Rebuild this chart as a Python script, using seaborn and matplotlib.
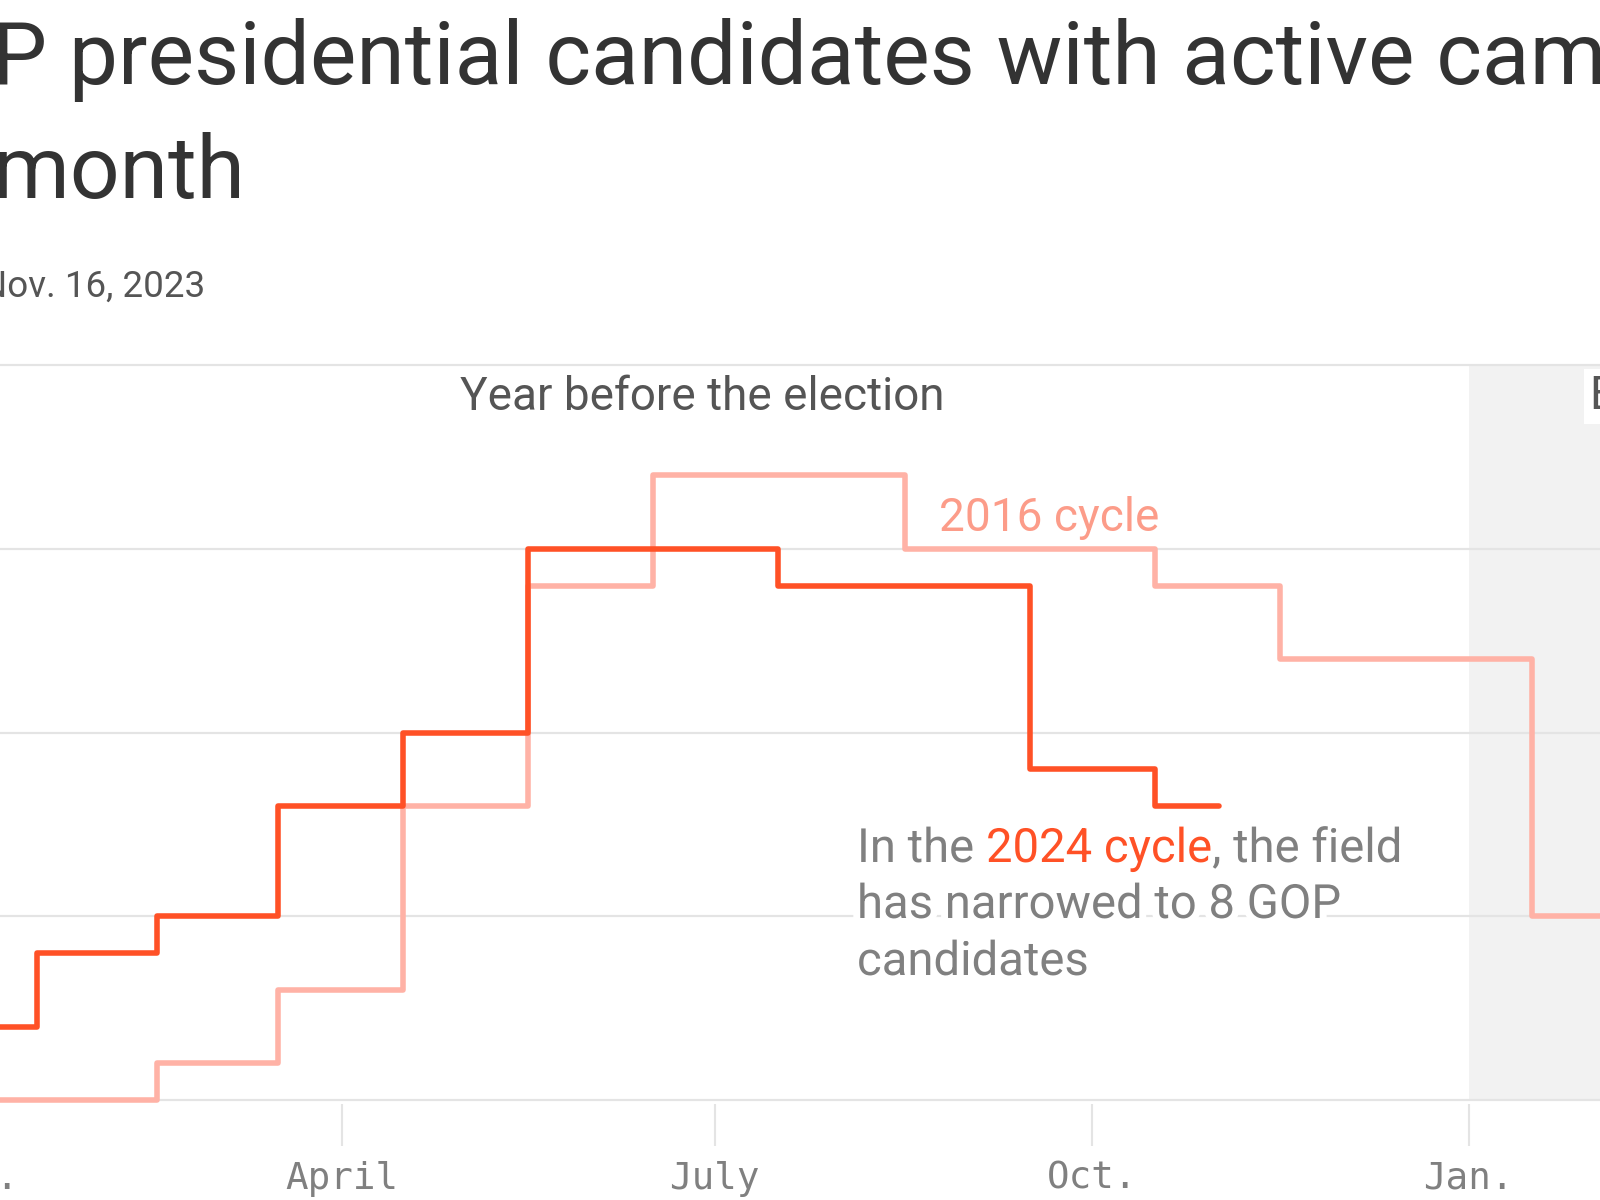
import matplotlib.pyplot as plt
import matplotlib.patheffects as pe
from matplotlib.transforms import offset_copy
import pandas as pd
import seaborn as sns

# active GOP campaigns, counted at the start of each month
months_2016 = ["2015-01", "2015-02", "2015-03", "2015-04", "2015-05", "2015-06", "2015-07",
               "2015-08", "2015-09", "2015-10", "2015-11", "2015-12", "2016-01", "2016-02",
               "2016-03"]
counts_2016 = [0, 0, 1, 3, 8, 14, 17, 17, 15, 15, 14, 12, 12, 5, 5]

months_2024 = ["2023-01", "2023-02", "2023-03", "2023-04", "2023-05", "2023-06",
               "2023-07", "2023-08", "2023-09", "2023-10", "2023-11"]
counts_2024 = [2, 4, 5, 8, 10, 15, 15, 14, 14, 9, 8]

tick_dates = ["2023-01-01", "2023-04-01", "2023-07-01", "2023-10-01", "2024-01-01"]
tick_labels = ["Jan.", "April", "July", "Oct.", "Jan."]

C_2024 = "#ff5126"
C_2016 = "#ffb2a6"
C_2016_TXT = "#fc9c89"
GRID = "#e4e4e4"

# both cycles drawn on one calendar (2016 cycle shifted by 8 years)
df16 = pd.DataFrame({"date": pd.to_datetime(months_2016) + pd.DateOffset(years=8), "n": counts_2016})
df24 = pd.DataFrame({"date": pd.to_datetime(months_2024), "n": counts_2024})

sns.set_theme(style="white")
plt.rcParams["font.family"] = ["Roboto", "DejaVu Sans"]

fig = plt.figure(figsize=(16, 12), dpi=100)

# the chart is cropped: axes run past both figure edges
day0 = pd.Timestamp("2023-01-01")
d_lo, d_hi = -20, 400
px0, ppd = -27, 4.098
left_px = px0 + d_lo * ppd
right_px = px0 + d_hi * ppd
y_lo, y_hi = -0.1, 20.1
unit = 36.75
bot_px = 1100 + 0.1 * unit
top_px = 365 - 0.1 * unit
ax = fig.add_axes([left_px / 1600, 1 - bot_px / 1200,
                   (right_px - left_px) / 1600, (bot_px - top_px) / 1200])

x_lo = day0 + pd.Timedelta(days=d_lo)
x_hi = day0 + pd.Timedelta(days=d_hi)
ax.fill_between([pd.Timestamp("2024-01-01"), x_hi], 0, 20, color="#f2f2f2", linewidth=0, zorder=0)

sns.lineplot(data=df16, x="date", y="n", drawstyle="steps-mid", color=C_2016,
             linewidth=4, ax=ax, zorder=3)
sns.lineplot(data=df24, x="date", y="n", drawstyle="steps-mid", color=C_2024,
             linewidth=4, ax=ax, zorder=4)

ax.set_xlim(x_lo, x_hi)
ax.set_ylim(y_lo, y_hi)
ax.set_yticks([0, 5, 10, 15, 20])
ax.grid(axis="y", color=GRID, linewidth=1.6)
ax.grid(axis="x", visible=False)
ax.set_axisbelow(True)
ax.set_xticks(pd.to_datetime(tick_dates))
ax.set_xticklabels(tick_labels, fontfamily="DejaVu Sans Mono", fontsize=27, color="#808080")
ax.tick_params(axis="x", bottom=True, length=30, width=1.5, color=GRID, pad=11)
ax.tick_params(axis="y", left=False, labelleft=False)
ax.set_xlabel("")
ax.set_ylabel("")
for s in ax.spines.values():
    s.set_visible(False)

renderer = fig.canvas.get_renderer()


def text_width(s, **kw):
    t = fig.text(0, 0, s, **kw)
    w = t.get_window_extent(renderer=renderer).width
    t.remove()
    return w


def day(d):
    return day0 + pd.Timedelta(days=d)


def y_of(px):
    return (1100 - px) / unit


# headline, cut at the left and right edges like the reference
title_kw = dict(fontsize=63, color="#333333")
w_go = text_width("GO", **title_kw)
fig.text(0, 1 - 84 / 1200, "GOP presidential candidates with active campaigns",
         va="baseline", transform=offset_copy(fig.transFigure, fig=fig, x=-8 - w_go, units="dots"),
         **title_kw)
fig.text(0, 1 - 198 / 1200, "month", va="baseline",
         transform=offset_copy(fig.transFigure, fig=fig, x=-7, units="dots"), **title_kw)

sub_kw = dict(fontsize=26.5, color="#555555")
w_n = text_width("N", **sub_kw)
fig.text(0, 1 - 297 / 1200, "Nov. 16, 2023", va="baseline",
         transform=offset_copy(fig.transFigure, fig=fig, x=7 - w_n, units="dots"), **sub_kw)

# period labels
ax.text(day(178), y_of(410), "Year before the election", ha="center", va="baseline",
        fontsize=33, color="#555555", zorder=6)
ax.text(day((1590 - px0) / ppd), y_of(409), "Election year", ha="left", va="baseline",
        fontsize=33, color="#555555", zorder=6,
        bbox=dict(facecolor="white", edgecolor="none", pad=4))

ax.text(day((939 - px0) / ppd), y_of(531), "2016 cycle", ha="left", va="baseline",
        fontsize=33, color=C_2016_TXT, zorder=6)

# annotation with a coloured phrase and a white halo
ann_kw = dict(fontsize=34, va="baseline", zorder=6,
              path_effects=[pe.withStroke(linewidth=10, foreground="white")])
ax0 = day((857 - px0) / ppd)
w_a = text_width("In the 2024 cycle", fontsize=34)
w_b = text_width("2024 cycle", fontsize=34)
ax.text(ax0, y_of(862), "In the ", color="#808080", **ann_kw)
ax.text(ax0, y_of(862), "2024 cycle", color=C_2024,
        transform=offset_copy(ax.transData, fig=fig, x=w_a - w_b, units="dots"), **ann_kw)
ax.text(ax0, y_of(862), ", the field", color="#808080",
        transform=offset_copy(ax.transData, fig=fig, x=w_a, units="dots"), **ann_kw)
ax.text(ax0, y_of(918), "has narrowed to 8 GOP", color="#808080", **ann_kw)
ax.text(ax0, y_of(975), "candidates", color="#808080", **ann_kw)

fig.savefig("out.png", dpi=100, facecolor="white")
